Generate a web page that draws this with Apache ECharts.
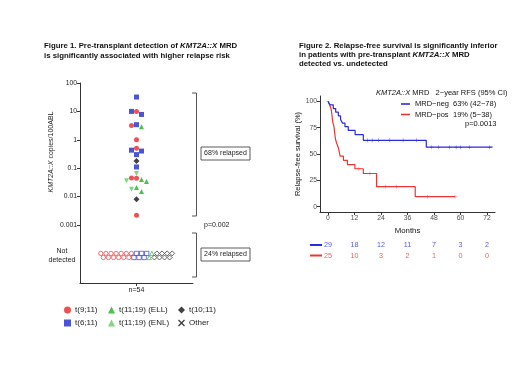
<!DOCTYPE html>
<html>
<head>
<meta charset="utf-8">
<script src="https://cdn.jsdelivr.net/npm/echarts@6/dist/echarts.min.js"></script>
<style>
  html, body { margin: 0; padding: 0; background: #fff; }
  #chart { width: 520px; height: 390px; }
</style>
</head>
<body>
<div id="chart"></div>
<script>
// --- Figure 1 : copies KMT2A::X /100ABL (MRD détectable) par groupe ---
const groupNames = ['t(9;11)', 't(6;11)', 't(11;19) (ELL)', 't(11;19) (ENL)', 't(10;11)', 'Other'];
const t911Detected = [10, 3.2, 1, 0.5, 0.045, 0.044, 0.0022];
const t611Detected = [32, 10, 7.8, 3.4, 0.43, 0.4, 0.3, 0.11];
const ellDetected = [2.9, 0.04, 0.034, 0.021, 0.015];
const enlDetected = [0.065, 0.036, 0.018];
const t1011Detected = [0.18, 0.008];
const otherDetected = [];
// patients sans MRD détectable, même ordre que groupNames
const notDetectedCounts = [13, 6, 2, 0, 8, 0];

// --- Figure 2 : courbes de Kaplan-Meier (mois, %) ---
const negTimes = [0, 0.9, 2.4, 3.5, 4.7, 5.7, 6.6, 7.7, 9.2, 12.3, 16, 44.5, 74.5];
const negSurv = [100, 96.6, 93.1, 89.7, 86.2, 82.8, 79.3, 75.9, 72.4, 68.3, 63, 56.5, 56.5];
const posTimes = [0, 0.9, 1.5, 2.2, 2.7, 3.4, 4.0, 4.7, 5.5, 7, 8.8, 12.2, 16, 22, 39.5, 57.5];
const posSurv = [100, 96, 92, 80, 76, 64, 60, 56, 48, 44, 40, 36, 31.5, 19, 9.5, 9.5];
const negCensored = [18, 20, 23, 28, 34, 40, 47, 50, 55, 58, 60, 64, 73];
const posCensored = [14, 19, 26, 31, 45, 57.5];
const riskMonths = [0, 12, 24, 36, 48, 60, 72];
const atRiskNeg = [29, 18, 12, 11, 7, 3, 2];
const atRiskPos = [25, 10, 3, 2, 1, 0, 0];

const FONT = '"Liberation Sans", Arial, sans-serif';
const RED = '#e8262b', BLUE = '#1c2bd0', ELL = '#22b022', ENL = '#5ccf5c', BLK = '#111111';
const KM_BLUE = '#2a2ae0', KM_RED = '#ee3535';
const groupColors = [RED, BLUE, ELL, ENL, BLK, BLK];
const groupSymbols = ['circle', 'rect', 'triangle', 'triangle', 'diamond',
  'path://M0,1.4L1.4,0L5,3.6L8.6,0L10,1.4L6.4,5L10,8.6L8.6,10L5,6.4L1.4,10L0,8.6L3.6,5Z'];
const groupRotate = [0, 0, 0, 180, 0, 0];
const detected = [t911Detected, t611Detected, ellDetected, enlDetected, t1011Detected, otherDetected];

// disposition en essaim (beeswarm) : 1 unité x = 1 px, 28.4 px par décade
const placed = [];
const allPts = [];
detected.forEach((vals, g) => vals.forEach(v => allPts.push({ g, v })));
allPts.sort((a, b) => b.v - a.v);
allPts.forEach(p => {
  const py = Math.log10(p.v) * 28.4;
  for (const s of [0, -1, 1, -2, 2, -3, 3]) {
    if (!placed.some(q => q.s === s && Math.abs(q.py - py) < 4.6)) {
      p.s = s; p.py = py; placed.push(p); break;
    }
  }
});

// rangée "Not detected"
const ndTotal = notDetectedCounts.reduce((a, b) => a + b, 0);
let ndIdx = 0;
const ndData = notDetectedCounts.map(n => {
  const arr = [];
  for (let k = 0; k < n; k++) {
    arr.push([(ndIdx - (ndTotal - 1) / 2) * 2.55, ndIdx % 2 ? 1.0 : 1.16]);
    ndIdx++;
  }
  return arr;
});

function survAt(times, surv, t) {
  let s = surv[0];
  for (let i = 0; i < times.length; i++) if (times[i] <= t) s = surv[i];
  return s;
}

const series = [];
groupNames.forEach((name, g) => {
  series.push({
    name, type: 'scatter', xAxisIndex: 0, yAxisIndex: 0,
    symbol: groupSymbols[g], symbolRotate: groupRotate[g], symbolSize: g === 4 ? 6 : 5,
    itemStyle: { color: groupColors[g] },
    data: placed.filter(p => p.g === g).map(p => [p.s * 5, p.v])
  });
});
groupNames.forEach((name, g) => {
  if (!ndData[g].length) return;
  series.push({
    name, type: 'scatter', xAxisIndex: 1, yAxisIndex: 1,
    symbol: groupSymbols[g], symbolRotate: groupRotate[g], symbolSize: g === 4 ? 5 : 4.3,
    itemStyle: { color: '#fff', borderColor: groupColors[g], borderWidth: 0.8 },
    data: ndData[g]
  });
});

// Kaplan-Meier
series.push({
  name: 'MRD−neg', type: 'line', step: 'end', xAxisIndex: 2, yAxisIndex: 2,
  showSymbol: false, lineStyle: { color: KM_BLUE, width: 1.2 }, itemStyle: { color: KM_BLUE },
  data: negTimes.map((t, i) => [t, negSurv[i]]), z: 3
});
series.push({
  name: 'MRD−pos', type: 'line', step: 'end', xAxisIndex: 2, yAxisIndex: 2,
  showSymbol: false, lineStyle: { color: KM_RED, width: 1.2 }, itemStyle: { color: KM_RED },
  data: posTimes.map((t, i) => [t, posSurv[i]]), z: 2
});
const plus = 'path://M4.4,0H5.6V4.4H10V5.6H5.6V10H4.4V5.6H0V4.4H4.4Z';
series.push({
  name: 'MRD−neg', type: 'scatter', xAxisIndex: 2, yAxisIndex: 2, symbol: plus, symbolSize: 4,
  itemStyle: { color: KM_BLUE }, data: negCensored.map(t => [t, survAt(negTimes, negSurv, t)])
});
series.push({
  name: 'MRD−pos', type: 'scatter', xAxisIndex: 2, yAxisIndex: 2, symbol: plus, symbolSize: 4,
  itemStyle: { color: KM_RED }, data: posCensored.map(t => [t, survAt(posTimes, posSurv, t)])
});
// table des patients à risque
[[atRiskNeg, 'neg', KM_BLUE], [atRiskPos, 'pos', KM_RED]].forEach(([arr, row, col]) => {
  series.push({
    type: 'scatter', xAxisIndex: 3, yAxisIndex: 3, symbolSize: 0, silent: true,
    label: { show: true, position: 'inside', color: col, fontSize: 7.2, formatter: p => p.value[2] },
    data: riskMonths.map((m, i) => [m, row, arr[i]])
  });
});

const axisCol = '#333';
const leftLegend = (left, data) => ({
  left, top: 306, orient: 'vertical', padding: 0, itemGap: 5,
  itemWidth: 7, itemHeight: 7, data,
  textStyle: { fontSize: 8, color: '#222', padding: [0, 0, 0, -1] }
});

// n'affiche que les puissances de 10
const decadeLabel = v => {
  const e = Math.log10(v);
  return Math.abs(e - Math.round(e)) < 1e-6 ? String(parseFloat(Number(v).toPrecision(2))) : '';
};

const option = {
  animation: false,
  textStyle: { fontFamily: FONT },
  grid: [
    { left: 80, top: 83, width: 113, height: 149 },
    { left: 80, top: 232, width: 113, height: 51 },
    { left: 320, top: 96, width: 175, height: 116 },
    { left: 320, top: 240, width: 175, height: 21 }
  ],
  xAxis: [
    { gridIndex: 0, type: 'value', min: -56.5, max: 56.5, show: false },
    {
      gridIndex: 1, type: 'value', min: -56.5, max: 56.5,
      axisLine: { onZero: false, lineStyle: { color: axisCol } },
      axisTick: { customValues: [0], length: 3, lineStyle: { color: axisCol } },
      axisLabel: { customValues: [0], formatter: () => 'n=54', fontSize: 7, color: '#222', margin: 4 },
      splitLine: { show: false }
    },
    {
      gridIndex: 2, type: 'value', min: -3.6, max: 75.6,
      name: 'Months', nameLocation: 'middle', nameGap: 15,
      nameTextStyle: { fontSize: 7.8, color: '#111' },
      axisLine: { onZero: false, lineStyle: { color: axisCol } },
      axisTick: { customValues: riskMonths, length: 3, lineStyle: { color: axisCol } },
      axisLabel: { customValues: riskMonths, fontSize: 6.8, color: '#4d4d4d', margin: 3 },
      splitLine: { show: false }
    },
    { gridIndex: 3, type: 'value', min: -3.6, max: 75.6, show: false }
  ],
  yAxis: [
    {
      gridIndex: 0, type: 'log', min: Math.pow(10, -3.25), max: 100,
      axisLine: { show: true, onZero: false, lineStyle: { color: axisCol } },
      axisTick: { show: true, length: 3, lineStyle: { color: axisCol } },
      axisLabel: { fontSize: 6.8, color: '#222', margin: 3, formatter: decadeLabel, showMinLabel: false },
      splitLine: { show: false }, minorTick: { show: false }
    },
    {
      gridIndex: 1, type: 'value', min: 0, max: 2,
      axisLine: { show: true, onZero: false, lineStyle: { color: axisCol } },
      axisTick: { show: false },
      axisLabel: {
        customValues: [1.08], margin: 3, formatter: () => '{a|Not}\n{a|detected}',
        rich: { a: { width: 30, align: 'center', fontSize: 7, color: '#222', lineHeight: 9 } }
      },
      splitLine: { show: false }
    },
    {
      gridIndex: 2, type: 'value', min: -5, max: 105,
      name: 'Relapse-free survival (%)', nameLocation: 'middle', nameGap: 17,
      nameTextStyle: { fontSize: 7.5, color: '#111' },
      axisLine: { show: true, onZero: false, lineStyle: { color: axisCol } },
      axisTick: { show: true, customValues: [0, 25, 50, 75, 100], length: 3, lineStyle: { color: axisCol } },
      axisLabel: { customValues: [0, 25, 50, 75, 100], fontSize: 6.8, color: '#4d4d4d', margin: 3 },
      splitLine: { show: false }
    },
    { gridIndex: 3, type: 'category', data: ['neg', 'pos'], inverse: true, show: false }
  ],
  legend: [
    leftLegend(64, [groupNames[0], groupNames[1]]),
    leftLegend(108, [groupNames[2], groupNames[3]]),
    leftLegend(178, [groupNames[4], groupNames[5]]),
    {
      left: 401, top: 100, orient: 'vertical', padding: 0, itemGap: 2.5,
      icon: 'rect', itemWidth: 9, itemHeight: 1.6,
      data: ['MRD−neg', 'MRD−pos'],
      formatter: n => '{n|' + n + '}' + (n === 'MRD−neg' ? '63% (42−78)' : '19% (5−38)'),
      textStyle: { fontSize: 7.5, color: '#111', rich: { n: { width: 38, fontSize: 7.5 } } }
    }
  ],
  graphic: [
    // titres
    { type: 'text', left: 44, top: 41, style: { text: 'Figure 1. Pre-transplant detection of {i|KMT2A::X} MRD\nis significantly associated with higher relapse risk',
      font: 'bold 7.8px ' + FONT, fill: '#111', lineHeight: 10,
      rich: { i: { fontStyle: 'italic', fontWeight: 'bold', fontSize: 7.8 } } } },
    { type: 'text', left: 299, top: 41, style: { text: 'Figure 2. Relapse-free survival is significantly inferior\nin patients with pre-transplant {i|KMT2A::X} MRD\ndetected vs. undetected',
      font: 'bold 7.8px ' + FONT, fill: '#111', lineHeight: 9,
      rich: { i: { fontStyle: 'italic', fontWeight: 'bold', fontSize: 7.8 } } } },
    // titre axe y fig. 1
    { type: 'text', x: 51, y: 152, rotation: Math.PI / 2,
      style: { text: '{i|KMT2A::X} copies/100ABL', font: '7px ' + FONT, fill: '#222',
        align: 'center', verticalAlign: 'middle', rich: { i: { fontStyle: 'italic', fontSize: 7 } } } },
    // crochets et encadrés
    { type: 'polyline', shape: { points: [[192, 93], [196.5, 93], [196.5, 216], [192, 216]] },
      style: { stroke: '#555', lineWidth: 1, fill: null } },
    { type: 'polyline', shape: { points: [[192, 233], [196.5, 233], [196.5, 277], [192, 277]] },
      style: { stroke: '#555', lineWidth: 1, fill: null } },
    { type: 'rect', shape: { x: 201, y: 147, width: 49, height: 13 }, style: { stroke: '#333', fill: '#fff', lineWidth: 0.8 } },
    { type: 'text', x: 225.5, y: 153.5, style: { text: '68% relapsed', font: '7px ' + FONT, fill: '#222', align: 'center', verticalAlign: 'middle' } },
    { type: 'rect', shape: { x: 201, y: 248, width: 49, height: 13 }, style: { stroke: '#333', fill: '#fff', lineWidth: 0.8 } },
    { type: 'text', x: 225.5, y: 254.5, style: { text: '24% relapsed', font: '7px ' + FONT, fill: '#222', align: 'center', verticalAlign: 'middle' } },
    { type: 'text', x: 204, y: 225, style: { text: 'p=0.002', font: '7px ' + FONT, fill: '#222', verticalAlign: 'middle' } },
    // légende fig. 2
    { type: 'text', x: 376, y: 93, style: { text: '{i|KMT2A::X} MRD   2−year RFS (95% CI)', font: '7.5px ' + FONT, fill: '#111',
      verticalAlign: 'middle', rich: { i: { fontStyle: 'italic', fontSize: 7.5 } } } },
    { type: 'text', x: 465, y: 124, style: { text: 'p=0.0013', font: '7.5px ' + FONT, fill: '#111', verticalAlign: 'middle' } },
    { type: 'rect', shape: { x: 310, y: 244, width: 12, height: 2 }, style: { fill: KM_BLUE } },
    { type: 'rect', shape: { x: 310, y: 254.5, width: 12, height: 2 }, style: { fill: KM_RED } }
  ],
  series
};

const chart = echarts.init(document.getElementById('chart'));
chart.setOption(option);
</script>
</body>
</html>
